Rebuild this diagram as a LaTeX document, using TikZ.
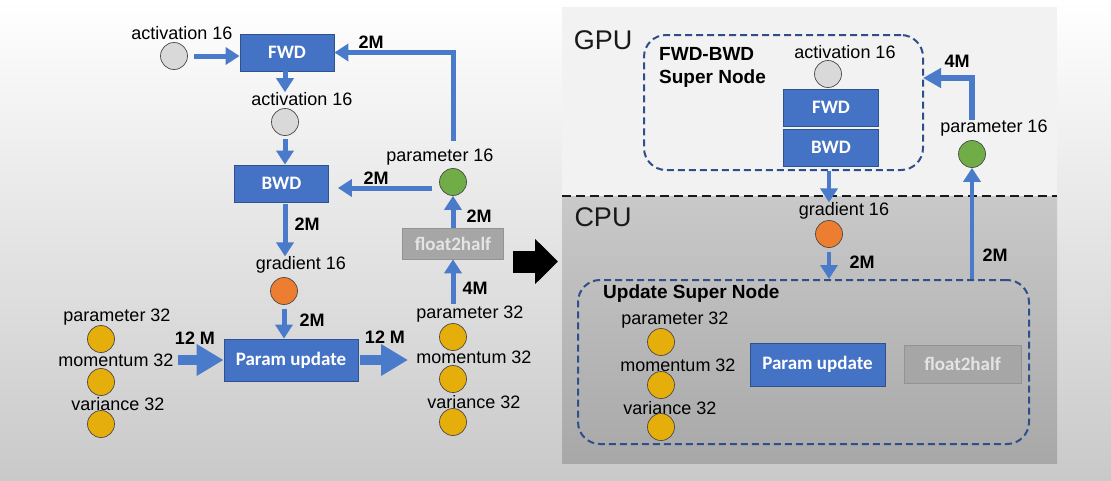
\documentclass[tikz,border=0pt]{standalone}
\usepackage{fontspec}
\setmainfont{Liberation Sans}
\newfontfamily\boxfont{Carlito}
\usetikzlibrary{arrows.meta}
\definecolor{boxblue}{HTML}{4472C4}
\definecolor{boxedge}{HTML}{2F528F}
\definecolor{flowblue}{HTML}{4A7BCB}
\definecolor{dashblue}{HTML}{2F4F8A}
\definecolor{actgray}{HTML}{D9D9D9}
\definecolor{ringgray}{HTML}{4A4A4A}
\definecolor{pgreen}{HTML}{70AD47}
\definecolor{gorange}{HTML}{ED7D31}
\definecolor{fyellow}{HTML}{E6AE0A}
\definecolor{halfgray}{HTML}{A6A6A6}
\definecolor{halfedge}{HTML}{939393}
\definecolor{halftext}{HTML}{E4E4E4}
\definecolor{gpufill}{HTML}{F2F2F2}
\definecolor{cputop}{HTML}{C9C9C9}
\definecolor{cpubot}{HTML}{A8A8A8}
\definecolor{bgmid}{HTML}{F7F7F7}
\definecolor{bgbot}{HTML}{C9C9C9}
\tikzset{
  lbl/.style={font=\fontsize{18}{20}\selectfont, inner sep=0pt},
  num/.style={font=\bfseries\fontsize{18}{20}\selectfont, inner sep=0pt},
  title/.style={font=\bfseries\fontsize{19}{23}\selectfont, inner sep=0pt, align=left},
  area/.style={font=\fontsize{27}{30}\selectfont, inner sep=0pt, text=black!90},
  opbox/.style={draw=boxedge, line width=0.8pt, fill=boxblue, text=white,
    font=\boxfont\bfseries\fontsize{19}{22}\selectfont, inner sep=0pt},
  halfbox/.style={draw=halfedge, line width=0.6pt, fill=halfgray, text=halftext,
    font=\boxfont\bfseries\fontsize{19}{22}\selectfont, inner sep=0pt},
  tensor/.style={circle, draw=ringgray, line width=0.7pt, minimum size=27pt, inner sep=0pt},
  act/.style={tensor, fill=actgray},
  par16/.style={tensor, fill=pgreen},
  grad/.style={tensor, fill=gorange},
  fp32/.style={tensor, fill=fyellow},
  supernode/.style={draw=dashblue, line width=2pt, dash pattern=on 7pt off 4pt,
    rounded corners=22pt, inner sep=0pt},
  flow/.style={draw=flowblue, line width=5pt, -{Triangle[length=14pt,width=17pt]}},
  blockflow/.style={draw=flowblue, line width=10pt, -{Triangle[length=27pt,width=30pt]}}
}
\begin{document}
\begin{tikzpicture}[x=1pt,y=-1pt]
\useasboundingbox (0,0) rectangle (1111,480);
% page background
\shade[top color=white, middle color=bgmid, bottom color=bgbot] (0,0) rectangle (1111,480);

% ---------------- left: training step ----------------
\node[lbl] (a1l) at (182,33) {activation 16};
\node[act] (a1) at (174,56) {};
\node[opbox, minimum width=94pt, minimum height=37pt] (fwd) at (287,52.5) {FWD};
\node[lbl] (a2l) at (302,99) {activation 16};
\node[act] (a2) at (285,122) {};
\node[opbox, minimum width=94pt, minimum height=37pt] (bwd) at (281.5,183.5) {BWD};
\node[lbl] (gl) at (301,265) {gradient 16};
\node[grad] (g) at (284,291) {};
\node[opbox, minimum width=134pt, minimum height=42pt] (pu) at (291,360) {Param update};

\node[lbl] (lpl) at (117,317) {parameter 32};
\node[fp32] (lp) at (101,339) {};
\node[lbl] (lml) at (116,360) {momentum 32};
\node[fp32] (lm) at (101,382) {};
\node[lbl] (lvl) at (118,404) {variance 32};
\node[fp32] (lv) at (101,424) {};

\node[lbl] (rpl) at (470,314) {parameter 32};
\node[fp32] (rp) at (453,337) {};
\node[lbl] (rml) at (474,357) {momentum 32};
\node[fp32] (rm) at (453,379) {};
\node[lbl] (rvl) at (474,402) {variance 32};
\node[fp32] (rv) at (453,422) {};

\node[halfbox, minimum width=101pt, minimum height=31pt] (f2h) at (453,243.5) {float2half};
\node[lbl] (p16l) at (440,157) {parameter 16};
\node[par16] (p16) at (453,182) {};

\coordinate (lin) at (178,360);
\coordinate (rout) at (408,360);
\coordinate (p16out) at (432,188);

\draw[flow, shorten <=6pt] (a1.east) -- (a1.east -| fwd.west);
\draw[flow] (fwd.south -| a2) -- (a2 |- a2l.north);
\draw[flow, shorten <=3pt] (a2.south) -- (a2 |- bwd.north);
\draw[flow, shorten <=2pt] (bwd.south -| a2) -- (a2 |- gl.north);
\draw[flow, shorten <=4pt] (g.south) -- (g |- pu.north);
\draw[blockflow] (lin) -- (pu.west);
\draw[blockflow, shorten <=2pt] (pu.east) -- (rout);
\draw[flow, shorten <=2pt] (rpl.north -| rp) -- (rp |- f2h.south);
\draw[flow] (f2h.north -| p16) -- (p16.south);
\draw[flow, shorten >=9pt] (p16out) -- (p16out -| bwd.east);
\draw[flow, shorten <=8pt] (p16l.north -| p16) |- (fwd.east);

\node[num] (n1) at (371,42) {2M};
\node[num] (n2) at (376,178) {2M};
\node[num] (n3) at (307,224) {2M};
\node[num] (n4) at (479,216) {2M};
\node[num] (n5) at (312,320) {2M};
\node[num] (n6) at (475,288) {4M};
\node[num] (n7) at (195,338) {12 M};
\node[num] (n8) at (385,337) {12 M};

% the step from the plain graph to the offloaded one
\coordinate (bas) at (513,261.5);
\coordinate (bae) at (558,261.5);
\draw[black, line width=22pt, -{Triangle[length=23pt,width=44pt]}] (bas) -- (bae);

% ---------------- right: GPU / CPU split ----------------
\fill[gpufill] (562,7) rectangle (1057,196);
\shade[top color=cputop, bottom color=cpubot] (562,196) rectangle (1057,463);
\draw[black!90, line width=2.2pt, dash pattern=on 9pt off 5pt] (562,196) -- (1057,196);
\node[area] (gpu) at (603,40) {GPU};
\node[area] (cpu) at (603,217) {CPU};

\node[supernode, minimum width=279pt, minimum height=135pt] (sn1) at (783.5,102.5) {};
\node[title, anchor=north west] (sn1t) at (659,47) {FWD-BWD\\Super Node};
\node[lbl] (ral) at (845,52) {activation 16};
\node[act] (ra) at (828,74) {};
\node[opbox, minimum width=95pt, minimum height=37pt] (rfwd) at (831,107.5) {FWD};
\node[opbox, minimum width=95pt, minimum height=37pt] (rbwd) at (831,147.5) {BWD};

\node[lbl] (rp16l) at (994,128) {parameter 16};
\node[par16] (rp16) at (972,154) {};
\coordinate (sn1in) at (923,78);

\node[lbl] (rgl) at (844,211) {gradient 16};
\node[grad] (rg) at (829,234) {};

\node[supernode, minimum width=451pt, minimum height=164pt] (sn2) at (803.5,362) {};
\node[title, anchor=west] (sn2t) at (603,294) {Update Super Node};
\node[lbl] (upl) at (675,320) {parameter 32};
\node[fp32] (up) at (661,342) {};
\node[lbl] (uml) at (678,365) {momentum 32};
\node[fp32] (um) at (661,385) {};
\node[lbl] (uvl) at (670,408) {variance 32};
\node[fp32] (uv) at (661,427) {};
\node[opbox, minimum width=135pt, minimum height=43pt] (rpu) at (817.5,364.5) {Param update};
\node[halfbox, minimum width=117pt, minimum height=38pt] (rf2h) at (962.5,364) {float2half};

\draw[flow, line width=4pt] (sn1.south -| rg) -- (rg |- rgl.north);
\draw[flow, line width=4pt, shorten <=4pt] (rg.south) -- (rg |- sn2.north);
\draw[flow, line width=4pt] (sn2.north -| rp16) -- (rp16.south);
\draw[flow, line width=5.5pt, -{Triangle[length=18pt,width=19pt]}] (rp16l.north -| rp16) |- (sn1in);

\node[num] (m1) at (957,61) {4M};
\node[num] (m2) at (862,262) {2M};
\node[num] (m3) at (995,255) {2M};
\end{tikzpicture}
\end{document}
